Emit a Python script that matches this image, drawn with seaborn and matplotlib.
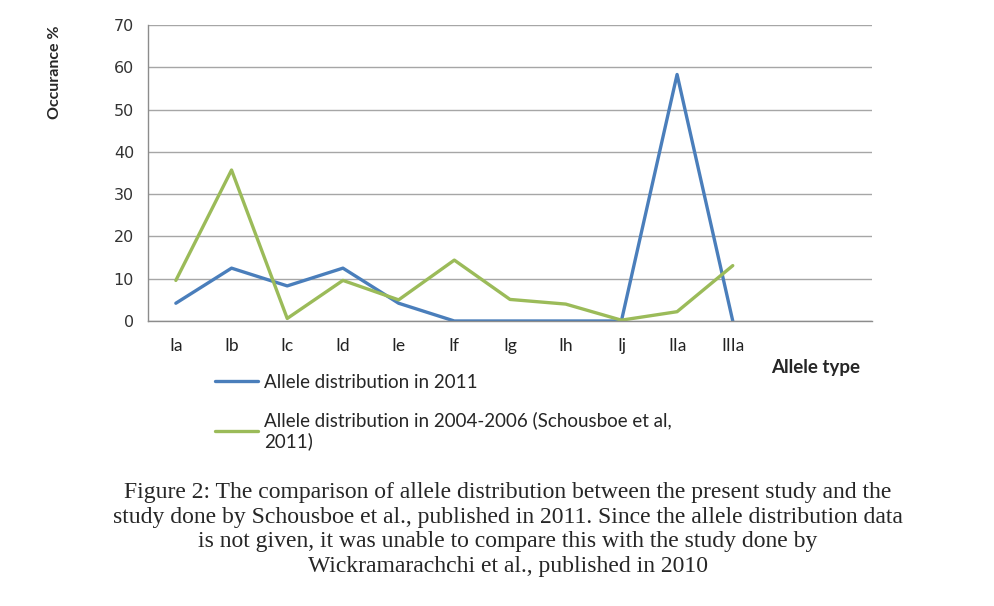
import matplotlib
matplotlib.use('Agg')
import matplotlib.pyplot as plt
import seaborn as sns
import pandas as pd
import numpy as np

# allele types and occurrence (%)
alleles = ['Ia', 'Ib', 'Ic', 'Id', 'Ie', 'If', 'Ig', 'Ih', 'Ij', 'IIa', 'IIIa']
dist_2011 = [4.2, 12.5, 8.3, 12.5, 4.2, 0, 0, 0, 0, 58.3, 0]
dist_2004_2006 = [9.6, 35.7, 0.6, 9.6, 5.0, 14.4, 5.1, 4.0, 0.2, 2.2, 13.1]
n_slots = 13  # the category axis has two empty slots on the right

label_a = 'Allele distribution in 2011'
label_b = 'Allele distribution in 2004-2006 (Schousboe et al,\n2011)'

df = pd.DataFrame({
    'pos': list(range(len(alleles))) * 2,
    'value': dist_2011 + dist_2004_2006,
    'series': [label_a] * len(alleles) + [label_b] * len(alleles),
})

sns.set_style('white')
plt.rcParams['font.family'] = ['Lato', 'DejaVu Sans']

fig = plt.figure(figsize=(9.94, 6.06), dpi=100)
ax = fig.add_axes([148 / 994, 1 - 321 / 606, 724 / 994, 296 / 606])

sns.lineplot(data=df, x='pos', y='value', hue='series',
             palette=['#4A7EBB', '#9BBB59'], linewidth=2.4, ax=ax, legend=False)

ax.set_xlim(-0.5, n_slots - 0.5)
ax.set_ylim(0, 70)
ax.set_yticks(range(0, 71, 10))
ax.yaxis.grid(True, color='#a6a6a6', linewidth=1)
ax.set_axisbelow(True)

ax.set_xticks(range(len(alleles)))
ax.set_xticklabels(alleles, fontsize=12.5, color='#222222')
ax.set_xticks(np.arange(-0.5, n_slots, 1), minor=True)
ax.tick_params(axis='x', which='major', length=0, pad=12)
ax.tick_params(axis='x', which='minor', length=6, color='#8c8c8c', width=1, direction='out')
ax.tick_params(axis='y', length=6, color='#8c8c8c', width=1, direction='out', pad=4)
for t in ax.get_yticklabels():
    t.set_family('DejaVu Sans')
    t.set_fontsize(11.5)
    t.set_color('#333333')

for s in ['top', 'right']:
    ax.spines[s].set_visible(False)
for s in ['left', 'bottom']:
    ax.spines[s].set_color('#8c8c8c')
    ax.spines[s].set_linewidth(1)

ax.set_xlabel('')
ax.set_ylabel('')
fig.text(55 / 994, 1 - 72 / 606, 'Occurance %', rotation=90, fontweight='bold',
         fontsize=11.5, ha='center', va='center')
fig.text(816 / 994, 1 - 367 / 606, 'Allele type', fontweight='bold',
         fontsize=13.5, ha='center', va='center')

handles = ax.get_lines()[:2]
leg = fig.legend(handles, [label_a, label_b], loc='upper left',
                 bbox_to_anchor=(198 / 994, 1 - 357 / 606), frameon=False,
                 fontsize=13.5, handlelength=2.3, handletextpad=0.3,
                 labelspacing=1.07)

caption = ('Figure 2: The comparison of allele distribution between the present study and the\n'
           'study done by Schousboe et al., published in 2011. Since the allele distribution data\n'
           'is not given, it was unable to compare this with the study done by\n'
           'Wickramarachchi et al., published in 2010')
fig.text(508 / 994, 1 - 482 / 606, caption, family='Liberation Serif', fontsize=17,
         ha='center', va='top', multialignment='center', linespacing=1.22)

fig.savefig('out.png', dpi=100)
